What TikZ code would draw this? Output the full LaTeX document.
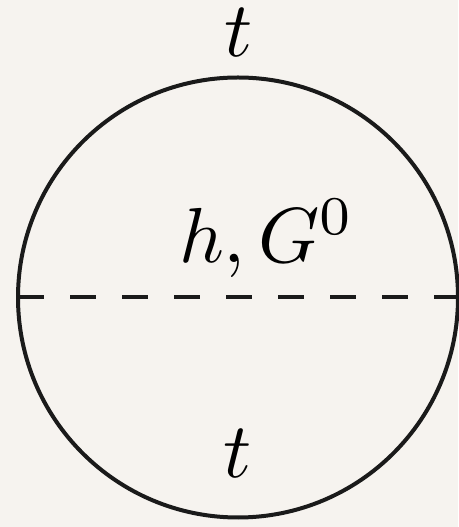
\documentclass[tikz,border=0pt]{standalone}
\definecolor{bgc}{HTML}{F6F3EF}
\definecolor{inkc}{HTML}{1A1A1A}
\tikzset{
  prop/.style={draw=inkc, line width=4pt},
  scal/.style={draw=inkc, line width=4pt, dash pattern=on 26pt off 26pt, dash phase=0pt},
  lab/.style={inner sep=0pt, font=\normalsize, scale=7.8, transform shape}
}
\begin{document}
\begin{tikzpicture}[x=1pt,y=1pt]
\fill[bgc] (0,0) rectangle (458,527);
\useasboundingbox (0,0) rectangle (458,527);
\coordinate (C) at (238,229.5);
\coordinate (L) at (18,229.5);
\coordinate (R) at (458,229.5);
\draw[prop] (C) circle (220);
\draw[scal] (L) -- (R);
\node[lab, anchor=base] (top) at (239,470) {$t$};
\node[lab, anchor=base] (bot) at (238,49) {$t$};
\node[lab, anchor=base] (hg) at (267,264) {$h,G^0$};
\end{tikzpicture}
\end{document}
